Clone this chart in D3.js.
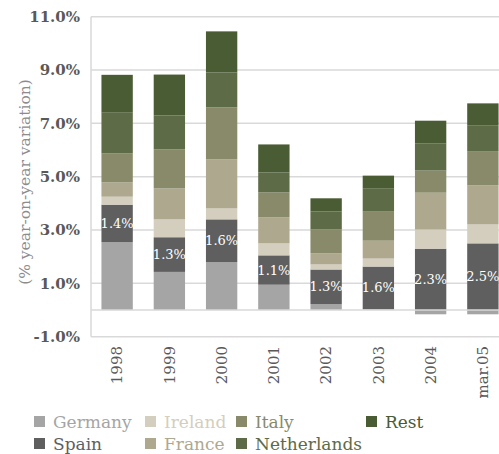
<!DOCTYPE html>
<html>
<head>
<meta charset="utf-8">
<script src="https://cdn.jsdelivr.net/npm/d3@7"></script>
<style>
  html, body { margin: 0; padding: 0; background: #fff; }
  svg { display: block; }
</style>
</head>
<body>
<svg id="chart" width="499" height="454"></svg>
<script>
// Contribution to year-on-year variation, by country
const categories = ["1998", "1999", "2000", "2001", "2002", "2003", "2004", "mar.05"];
const germany     = [2.55, 1.43, 1.80, 0.95, 0.22, 0.03, -0.16, -0.16];
const spain       = [1.4, 1.3, 1.6, 1.1, 1.3, 1.6, 2.3, 2.5];
const ireland     = [0.30, 0.67, 0.41, 0.45, 0.19, 0.30, 0.72, 0.71];
const france      = [0.54, 1.16, 1.84, 0.98, 0.42, 0.67, 1.38, 1.47];
const italy       = [1.08, 1.47, 1.95, 0.93, 0.90, 1.09, 0.83, 1.28];
const netherlands = [1.53, 1.27, 1.31, 0.75, 0.67, 0.86, 1.01, 0.97];
const rest        = [1.42, 1.53, 1.54, 1.05, 0.49, 0.49, 0.86, 0.82];
const yTicks = [-1, 1, 3, 5, 7, 9, 11];

const seriesNames = ["Germany", "Spain", "Ireland", "France", "Italy", "Netherlands", "Rest"];
const seriesValues = [germany, spain, ireland, france, italy, netherlands, rest];
const colors = ["#a5a5a5", "#5f5f5f", "#d3cebe", "#aea88f", "#898a6a", "#5e6b47", "#4a5c33"];

const rows = categories.map((c, i) => {
  const r = { cat: c };
  seriesNames.forEach((s, k) => r[s] = seriesValues[k][i]);
  return r;
});

const svg = d3.select("#chart");
const font = "'DejaVu Serif', serif";
const m = { left: 91, right: 509, top: 16.7, bottom: 336.7 };

const x = d3.scaleBand().domain(categories).range([m.left, m.right])
  .paddingInner(0.4).paddingOuter(0.2);
const y = d3.scaleLinear().domain([-1, 11]).range([m.bottom, m.top]);
const color = d3.scaleOrdinal().domain(seriesNames).range(colors);

// gridlines
svg.append("g").selectAll("line").data(yTicks).join("line")
  .attr("x1", m.left).attr("x2", m.right)
  .attr("y1", d => y(d)).attr("y2", d => y(d))
  .attr("stroke", "#d9d9d9").attr("stroke-width", 1.5);

// vertical axis line
svg.append("line")
  .attr("x1", m.left).attr("x2", m.left)
  .attr("y1", m.top).attr("y2", m.bottom)
  .attr("stroke", "#d9d9d9").attr("stroke-width", 1.5);

// stacked bars (negative values stack below zero)
const stack = d3.stack().keys(seriesNames).offset(d3.stackOffsetDiverging);
const layers = stack(rows);

svg.append("g").selectAll("g").data(layers).join("g")
  .attr("fill", d => color(d.key))
  .selectAll("rect").data(d => d).join("rect")
  .attr("x", d => x(d.data.cat))
  .attr("width", x.bandwidth())
  .attr("y", d => y(Math.max(d[0], d[1])))
  .attr("height", d => Math.abs(y(d[0]) - y(d[1])));

// zero line
svg.append("line")
  .attr("x1", m.left).attr("x2", m.right)
  .attr("y1", y(0)).attr("y2", y(0))
  .attr("stroke", "#d9d9d9").attr("stroke-width", 1.5);

// Spain value labels
const spainLayer = layers[seriesNames.indexOf("Spain")];
svg.append("g").selectAll("text").data(spainLayer).join("text")
  .attr("x", d => x(d.data.cat) + x.bandwidth() / 2)
  .attr("y", d => y((d[0] + d[1]) / 2))
  .attr("dy", "0.35em")
  .attr("text-anchor", "middle")
  .attr("font-family", font).attr("font-size", 13)
  .attr("fill", "#ffffff")
  .text(d => d.data.Spain.toFixed(1) + "%");

// y tick labels
svg.append("g").selectAll("text").data(yTicks).join("text")
  .attr("x", 80).attr("y", d => y(d))
  .attr("dy", "0.35em")
  .attr("text-anchor", "end")
  .attr("font-family", font).attr("font-size", 15).attr("font-weight", "bold")
  .attr("fill", "#595959")
  .text(d => d.toFixed(1) + "%");

// y axis title
svg.append("text")
  .attr("transform", `translate(25,${182}) rotate(-90)`)
  .attr("dy", "0.35em")
  .attr("text-anchor", "middle")
  .attr("font-family", font).attr("font-size", 15.5)
  .attr("fill", "#8c8c8c")
  .text("(% year-on-year variation)");

// x tick labels
svg.append("g").selectAll("text").data(categories).join("text")
  .attr("transform", d => `translate(${x(d) + x.bandwidth() / 2},${346}) rotate(-90)`)
  .attr("dy", "0.35em")
  .attr("text-anchor", "end")
  .attr("font-family", font).attr("font-size", 15)
  .attr("fill", "#595959")
  .text(d => d);

// legend
const legendPos = {
  Germany: [34, 422], Ireland: [145, 422], Italy: [236, 422], Rest: [366, 422],
  Spain: [34, 444], France: [145, 444], Netherlands: [236, 444]
};
const legend = svg.append("g").selectAll("g").data(seriesNames).join("g")
  .attr("transform", d => `translate(${legendPos[d][0]},${legendPos[d][1]})`);
legend.append("rect")
  .attr("x", 0).attr("y", -6).attr("width", 11).attr("height", 11)
  .attr("fill", d => color(d));
legend.append("text")
  .attr("x", 19).attr("y", 0).attr("dy", "0.35em")
  .attr("font-family", font).attr("font-size", 17)
  .attr("fill", d => color(d))
  .text(d => d);
</script>
</body>
</html>
